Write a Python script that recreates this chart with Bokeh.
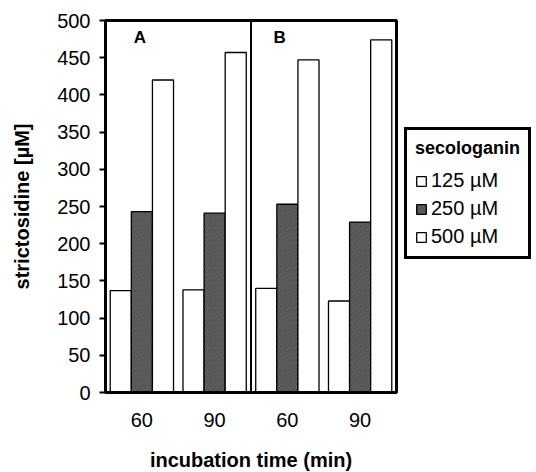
from bokeh.plotting import figure
from bokeh.models import Range1d, FixedTicker, Span, Label, Legend, LegendItem
from bokeh.embed import file_html
from bokeh.resources import INLINE

# ---- data ----
panels = ["A", "B"]
times = ["60", "90"]
series_names = ["125 µM", "250 µM", "500 µM"]
# values per panel/time group: A-60, A-90, B-60, B-90
conc_125 = [137, 138, 140, 123]
conc_250 = [243, 241, 253, 229]
conc_500 = [420, 457, 447, 474]
series_values = [conc_125, conc_250, conc_500]

FONT = "Liberation Sans"

group_x = [0.5, 1.5, 2.5, 3.5]
tick_labels = [t for _ in panels for t in times]

p = figure(frame_width=291, frame_height=372, output_backend="svg", toolbar_location=None,
           x_range=Range1d(0, 4), y_range=Range1d(0, 500),
           min_border_left=105, min_border_right=0, min_border_top=20,
           min_border_bottom=80)

bw = 0.29
offsets = [-bw, 0, bw]
fills = ["white", "#4f4f4f", "white"]
renderers = []
for vals, off, fc in zip(series_values, offsets, fills):
    xs = [g + off for g in group_x]
    kw = {}
    if fc != "white":
        kw = dict(hatch_pattern="right_diagonal_line", hatch_color="#8a8a8a",
                  hatch_alpha=0.45, hatch_scale=5, hatch_weight=1)
    r = p.vbar(x=xs, top=vals, width=bw, bottom=0, fill_color=fc,
               line_color="black", line_width=1.3, **kw)
    renderers.append(r)

# divider between panels
p.add_layout(Span(location=2, dimension="height", line_color="black", line_width=2))

# panel labels
for i, name in enumerate(panels):
    p.add_layout(Label(x=0.39 + 2 * i - (0.08 if i else 0), y=490, text=name,
                       text_font=FONT, text_font_size="17px", text_font_style="bold",
                       text_baseline="top", text_align="left", text_color="black"))

p.xgrid.visible = False
p.ygrid.visible = False
p.outline_line_color = "black"
p.outline_line_width = 3
p.outline_line_alpha = 1
p.background_fill_color = "white"
p.border_fill_color = "white"

# axes
p.xaxis.ticker = FixedTicker(ticks=group_x)
p.xaxis.major_label_overrides = {g: t for g, t in zip(group_x, tick_labels)}
p.xaxis.major_tick_out = 0
p.xaxis.major_tick_in = 0
p.xaxis.minor_tick_out = 0
p.xaxis.axis_line_width = 3
p.xaxis.major_label_standoff = 20
p.xaxis.axis_label = "incubation time (min)"
p.xaxis.axis_label_standoff = 19

p.yaxis.ticker = FixedTicker(ticks=list(range(0, 501, 50)))
p.yaxis.major_tick_out = 6
p.yaxis.major_tick_in = 0
p.yaxis.minor_tick_out = 0
p.yaxis.minor_tick_in = 0
p.yaxis.major_tick_line_width = 2
p.yaxis.axis_line_width = 3
p.yaxis.major_label_standoff = 9
p.yaxis.axis_label = "strictosidine [µM]"
p.yaxis.axis_label_standoff = 21

for ax in (p.xaxis[0], p.yaxis[0]):
    ax.major_label_text_font = FONT
    ax.major_label_text_font_size = "20px"
    ax.major_label_text_color = "black"
    ax.axis_label_text_font = FONT
    ax.axis_label_text_font_size = "20px"
    ax.axis_label_text_font_style = "bold"
    ax.axis_label_text_color = "black"
    ax.axis_line_color = "black"
    ax.major_tick_line_color = "black"

legend = Legend(items=[LegendItem(label=n, renderers=[r]) for n, r in zip(series_names, renderers)],
                title="secologanin", location=(8, 133),
                title_text_font=FONT, title_text_font_size="18px", title_text_font_style="bold",
                title_text_color="black",
                label_text_font=FONT, label_text_font_size="20px", label_text_color="black",
                glyph_width=12, glyph_height=12, label_standoff=4,
                spacing=5, padding=8, title_standoff=10, margin=7,
                border_line_color="black", border_line_width=3, border_line_alpha=1,
                background_fill_color="white", background_fill_alpha=1)
p.add_layout(legend, "right")

open("out.html", "w").write(file_html(p, INLINE))
